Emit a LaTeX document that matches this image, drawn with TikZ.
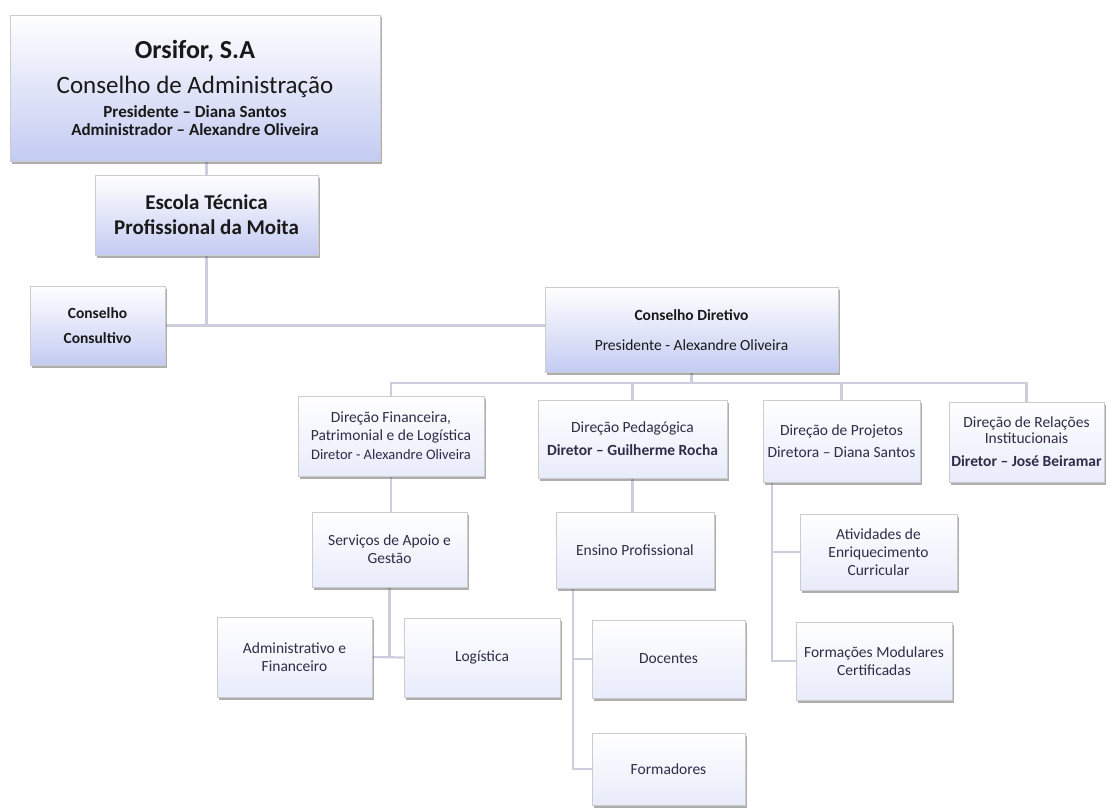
\documentclass[tikz,border=0pt]{standalone}
\usepackage{fontspec}
\setmainfont{Carlito}
\usetikzlibrary{shadows,backgrounds}
\definecolor{boxblue}{RGB}{196,203,242}
\definecolor{boxpale}{RGB}{232,235,250}
\definecolor{linkgray}{RGB}{204,206,222}
\definecolor{txtdark}{RGB}{48,44,72}
\tikzset{orgbox/.style={draw=black!20, line width=0.5pt, top color=white, middle color=white, bottom color=boxpale,
    drop shadow={shadow xshift=1.5pt, shadow yshift=-2.5pt, fill=black!70, opacity=0.45},
    align=center, inner sep=2pt, text=txtdark, font=\fontsize{15.5}{18}\selectfont},
  topbox/.style={orgbox, bottom color=boxblue, text=black!90},
  link/.style={draw=linkgray, line width=2.2pt}}

\begin{document}
\begin{tikzpicture}[x=1pt,y=-1pt]
  \useasboundingbox (0,0) rectangle (1109,808);
  % upper boxes
  \node[topbox, minimum width=370pt, minimum height=146pt, font=\fontsize{17}{18}\selectfont\bfseries] (orsifor) at (195,88)
   {{\fontsize{26}{30}\selectfont Orsifor, S.A}\\[13pt]
    {\fontsize{25}{30}\selectfont\mdseries Conselho de Administração}\\[6pt]
    Presidente – Diana Santos\\
    Administrador – Alexandre Oliveira};
  \node[topbox, minimum width=223pt, minimum height=80pt, font=\fontsize{21}{25}\selectfont\bfseries] (escola) at (206.5,215)
   {Escola Técnica\\Profissional da Moita};
  \node[topbox, minimum width=135pt, minimum height=79pt, font=\fontsize{15.5}{25}\selectfont\bfseries] (consult) at (97.5,325.5)
   {Conselho\\Consultivo};
  \node[topbox, minimum width=293pt, minimum height=85pt, font=\fontsize{15.5}{30}\selectfont] (diretivo) at (691.5,330)
   {\textbf{Conselho Diretivo}\\Presidente - Alexandre Oliveira};
  % direcoes
  \node[orgbox, minimum width=186pt, minimum height=80pt] (dfin) at (391,436)
   {Direção Financeira,\\Patrimonial e de Logística\\[1pt]{\fontsize{14.5}{18}\selectfont Diretor - Alexandre Oliveira}};
  \node[orgbox, minimum width=189pt, minimum height=78pt] (dped) at (632.5,439)
   {Direção Pedagógica\\[5pt]\textbf{Diretor – Guilherme Rocha}};
  \node[orgbox, minimum width=157pt, minimum height=82pt] (dproj) at (841.5,441)
   {Direção de Projetos\\[4pt]Diretora – Diana Santos};
  \node[orgbox, minimum width=155pt, minimum height=80pt] (drel) at (1026.5,442)
   {Direção de Relações\\[-2pt]Institucionais\\[5pt]\textbf{Diretor – José Beiramar}};
  % servicos
  \node[orgbox, minimum width=155pt, minimum height=75pt] (serv) at (389.5,549.5) {Serviços de Apoio e\\Gestão};
  \node[orgbox, minimum width=158pt, minimum height=76pt] (ensino) at (635,550) {Ensino Profissional};
  \node[orgbox, minimum width=157pt, minimum height=76pt] (ativ) at (878.5,552) {Atividades de\\Enriquecimento\\Curricular};
  \node[orgbox, minimum width=156pt, minimum height=78pt] (formmod) at (874,661) {Formações Modulares\\Certificadas};
  \node[orgbox, minimum width=155pt, minimum height=80pt] (admin) at (294.5,657) {Administrativo e\\Financeiro};
  \node[orgbox, minimum width=156pt, minimum height=79pt] (logis) at (482,657.5) {Logística};
  \node[orgbox, minimum width=153pt, minimum height=78pt] (docentes) at (668.5,659) {Docentes};
  \node[orgbox, minimum width=153pt, minimum height=72pt] (formad) at (668.5,769) {Formadores};
  % connectors
  \coordinate (busl) at (391,383);
  \coordinate (busr) at (1026.5,383);
  \begin{scope}[on background layer]
  \draw[link] (escola.north) -- (escola.north |- orsifor.south);
  \draw[link] (escola.south) -- (escola.south |- consult.east);
  \draw[link] (consult.east) -- (diretivo.west |- consult.east);
  \draw[link] (diretivo.south) -- (diretivo.south |- busl);
  \draw[link] (dfin.north) |- (busl) -- (busr) -| (drel.north);
  \draw[link] (dped.north) -- (dped.north |- busl);
  \draw[link] (dproj.north) -- (dproj.north |- busl);
  \draw[link] (dfin.south) -- (dfin.south |- serv.north);
  \draw[link] (serv.south) -- (serv.south |- admin.east);
  \draw[link] (admin.east) -- (logis.west);
  \draw[link] (dped.south) -- (dped.south |- ensino.north);
  \draw[link] ([xshift=17pt]ensino.south west) |- (docentes.west);
  \draw[link] ([xshift=17pt]ensino.south west) |- (formad.west);
  \draw[link] ([xshift=9pt]dproj.south west) |- (ativ.west);
  \draw[link] ([xshift=9pt]dproj.south west) |- (formmod.west);
  \end{scope}
\end{tikzpicture}
\end{document}
